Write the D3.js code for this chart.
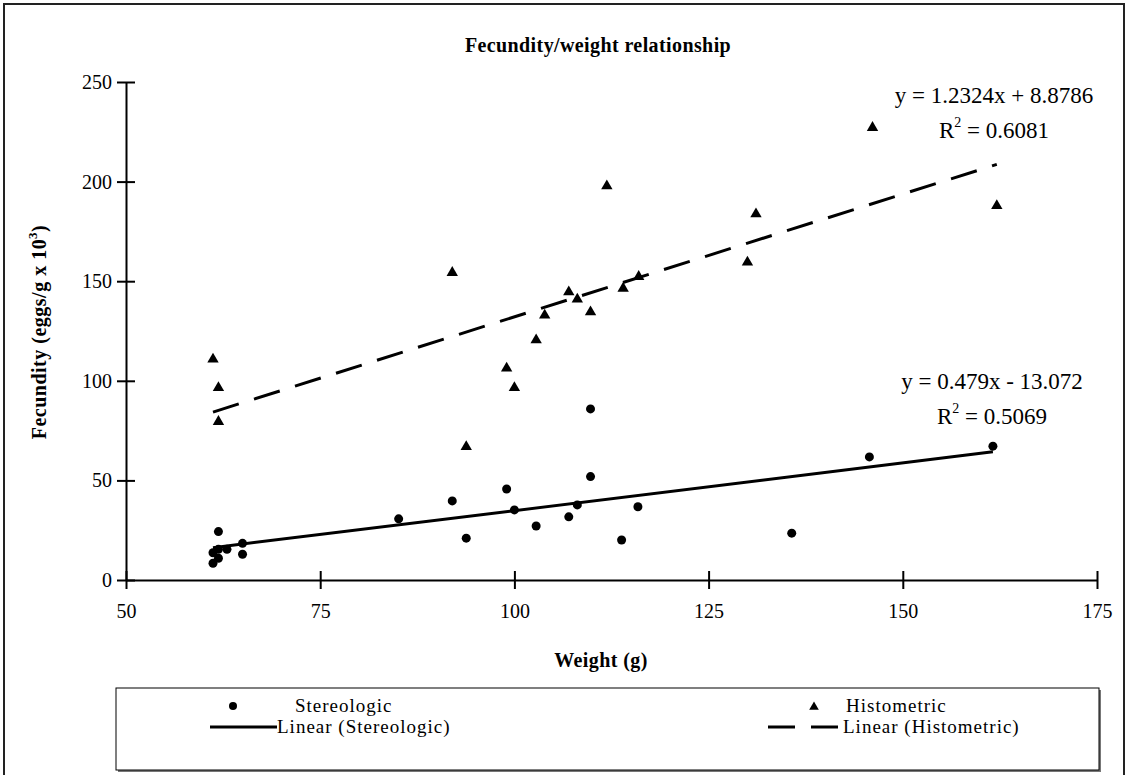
<!DOCTYPE html>
<html>
<head>
<meta charset="utf-8">
<script src="https://cdn.jsdelivr.net/npm/d3@7"></script>
<style>
  body { margin: 0; background: #fff; }
  text { font-family: "Liberation Serif", "Times New Roman", serif; fill: #000; }
</style>
</head>
<body>
<svg id="chart"></svg>
<script>
const width = 1127,
    height = 775;

// weights (g) and fecundity (eggs/g x 10^3)
const stereoX = [61.2, 61.2, 61.9, 61.9, 61.9, 63.0, 65.0, 65.0, 85.1, 92.0, 93.8, 99.0, 100.0,
    102.8, 107.0, 108.1, 109.8, 109.8, 113.8, 115.9, 135.7, 145.7, 161.6];
const stereoY = [13.7, 8.4, 24.3, 15.4, 10.9, 15.4, 18.4, 12.9, 30.7, 39.7, 21.0, 45.7, 35.2,
    27.1, 31.7, 37.7, 51.9, 85.9, 20.1, 36.8, 23.5, 61.8, 67.2];

const histoX = [61.2, 61.9, 61.9, 92.0, 93.8, 99.0, 100.0, 102.8, 103.9, 107.0, 108.1, 109.8,
    111.9, 114.0, 116.0, 130.0, 131.1, 146.1, 162.1];
const histoY = [110.8, 96.5, 79.5, 154.3, 66.9, 106.3, 96.5, 120.5, 132.9, 144.6, 140.9, 134.5,
    197.8, 146.4, 152.3, 159.5, 183.7, 227.1, 187.9];

// trend line coefficients [slope, intercept]
const stereoFit = [0.479, -13.072],
    histoFit = [1.2324, 8.8786];

const xTicks = [50, 75, 100, 125, 150, 175],
    yTicks = [0, 50, 100, 150, 200, 250];

const svg = d3.select("#chart").attr("width", width).attr("height", height);

// outer frame
svg.append("rect")
    .attr("x", 4).attr("y", 4)
    .attr("width", 1120).attr("height", 790)
    .attr("fill", "none").attr("stroke", "#222").attr("stroke-width", 2);

const x = d3.scaleLinear().domain([50, 175]).range([126, 1097]);
const y = d3.scaleLinear().domain([0, 250]).range([580, 82]);

// axes
const xAxis = svg.append("g")
    .attr("transform", `translate(0,${y(0)})`)
    .call(d3.axisBottom(x).tickValues(xTicks).tickSize(9).tickSizeOuter(0).tickPadding(15));
xAxis.selectAll(".tick line").attr("y1", -9);

const yAxis = svg.append("g")
    .attr("transform", `translate(${x(50)},0)`)
    .call(d3.axisLeft(y).tickValues(yTicks).tickSize(9).tickSizeOuter(0).tickPadding(5));
yAxis.selectAll(".tick line").attr("x1", 9);

svg.selectAll(".domain, .tick line").attr("stroke", "#000").attr("stroke-width", 2);
svg.selectAll(".tick text")
    .attr("font-family", "Liberation Serif")
    .attr("font-size", 20)
    .attr("fill", "#000");

// trend lines
function fitLine(xs, fit) {
    const ext = d3.extent(xs);
    return ext.map(v => [v, fit[0] * v + fit[1]]);
}
const line = d3.line().x(d => x(d[0])).y(d => y(d[1]));

svg.append("path")
    .attr("d", line(fitLine(stereoX, stereoFit)))
    .attr("fill", "none").attr("stroke", "#000").attr("stroke-width", 3);

svg.append("path")
    .attr("d", line(fitLine(histoX, histoFit)))
    .attr("fill", "none").attr("stroke", "#000").attr("stroke-width", 3)
    .attr("stroke-dasharray", "27,16");

// points
svg.append("g").selectAll("circle")
    .data(d3.zip(stereoX, stereoY))
    .join("circle")
    .attr("cx", d => x(d[0]))
    .attr("cy", d => y(d[1]))
    .attr("r", 4.5)
    .attr("fill", "#000");

const tri = d3.symbol(d3.symbolTriangle, 56);
svg.append("g").selectAll("path")
    .data(d3.zip(histoX, histoY))
    .join("path")
    .attr("d", tri)
    .attr("transform", d => `translate(${x(d[0])},${y(d[1])})`)
    .attr("fill", "#000");

// title and axis labels
svg.append("text")
    .attr("x", 598).attr("y", 52)
    .attr("text-anchor", "middle")
    .attr("font-size", 20).attr("font-weight", "bold")
    .attr("letter-spacing", 0.4)
    .text("Fecundity/weight relationship");

svg.append("text")
    .attr("x", 601).attr("y", 667)
    .attr("text-anchor", "middle")
    .attr("font-size", 20).attr("font-weight", "bold")
    .attr("letter-spacing", 0.4)
    .text("Weight (g)");

const yLab = svg.append("text")
    .attr("transform", "translate(46,332) rotate(-90)")
    .attr("text-anchor", "middle")
    .attr("font-size", 20).attr("font-weight", "bold")
    .attr("letter-spacing", 0.5);
yLab.append("tspan").text("Fecundity (eggs/g x 10");
yLab.append("tspan").attr("dy", -9).attr("font-size", 13).text("3");
yLab.append("tspan").attr("dy", 9).text(")");

// equations
function equation(cx, cy, eq, r2) {
    svg.append("text")
        .attr("x", cx).attr("y", cy)
        .attr("text-anchor", "middle")
        .attr("font-size", 23)
        .text(eq);
    const t = svg.append("text")
        .attr("x", cx).attr("y", cy + 35)
        .attr("text-anchor", "middle")
        .attr("font-size", 23);
    t.append("tspan").text("R");
    t.append("tspan").attr("dy", -11).attr("font-size", 14).text("2");
    t.append("tspan").attr("dy", 11).text(" = " + r2);
}
equation(994, 103, "y = 1.2324x + 8.8786", "0.6081");
equation(992, 389, "y = 0.479x - 13.072", "0.5069");

// legend
const lg = svg.append("g");
lg.append("rect")
    .attr("x", 118).attr("y", 690)
    .attr("width", 983).attr("height", 82)
    .attr("fill", "#777");
lg.append("rect")
    .attr("x", 116).attr("y", 688)
    .attr("width", 983).attr("height", 82)
    .attr("fill", "#fff").attr("stroke", "#000").attr("stroke-width", 1);

const legendFont = 19;
lg.append("circle").attr("cx", 233).attr("cy", 706).attr("r", 4).attr("fill", "#000");
lg.append("text").attr("x", 295).attr("y", 712).attr("font-size", legendFont)
    .attr("letter-spacing", 1).text("Stereologic");
lg.append("line").attr("x1", 210).attr("x2", 277).attr("y1", 727).attr("y2", 727)
    .attr("stroke", "#000").attr("stroke-width", 3);
lg.append("text").attr("x", 277).attr("y", 733).attr("font-size", legendFont)
    .attr("letter-spacing", 1).text("Linear (Stereologic)");

lg.append("path").attr("d", d3.symbol(d3.symbolTriangle, 40))
    .attr("transform", "translate(814,707)").attr("fill", "#000");
lg.append("text").attr("x", 846).attr("y", 712).attr("font-size", legendFont)
    .attr("letter-spacing", 1).text("Histometric");
lg.append("line").attr("x1", 768).attr("x2", 842).attr("y1", 727).attr("y2", 727)
    .attr("stroke", "#000").attr("stroke-width", 3)
    .attr("stroke-dasharray", "27,16");
lg.append("text").attr("x", 843).attr("y", 733).attr("font-size", legendFont)
    .attr("letter-spacing", 1).text("Linear (Histometric)");
</script>
</body>
</html>
